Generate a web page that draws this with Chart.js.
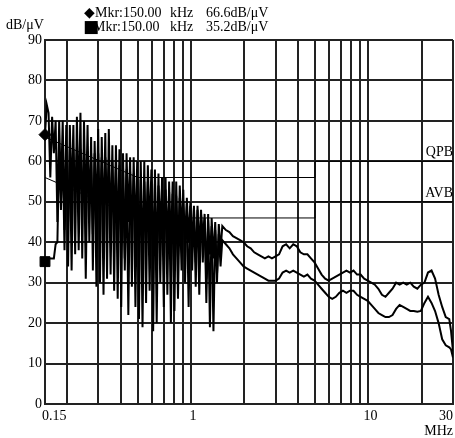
<!DOCTYPE html>
<html>
<head>
<meta charset="utf-8">
<script src="https://cdn.jsdelivr.net/npm/chart.js@4.4.0/dist/chart.umd.min.js"></script>
<style>
  body { margin: 0; background: #fff; }
  canvas { display: block; }
</style>
</head>
<body>
<canvas id="emi" width="455" height="438"></canvas>
<script>
// sweep frequencies (MHz), shared by both traces
var freqs = [
  0.1500, 0.1535, 0.1571, 0.1607, 0.1645, 0.1683, 0.1722, 0.1762, 0.1803, 0.1845,
  0.1888, 0.1932, 0.1977, 0.2024, 0.2071, 0.2119, 0.2168, 0.2219, 0.2270, 0.2323,
  0.2377, 0.2433, 0.2489, 0.2547, 0.2607, 0.2667, 0.2730, 0.2793, 0.2858, 0.2925,
  0.2993, 0.3063, 0.3134, 0.3207, 0.3282, 0.3358, 0.3436, 0.3516, 0.3598, 0.3682,
  0.3768, 0.3856, 0.3945, 0.4037, 0.4131, 0.4228, 0.4326, 0.4427, 0.4530, 0.4635,
  0.4743, 0.4854, 0.4967, 0.5083, 0.5201, 0.5322, 0.5446, 0.5573, 0.5703, 0.5836,
  0.5972, 0.6111, 0.6253, 0.6399, 0.6548, 0.6700, 0.6856, 0.7016, 0.7179, 0.7347,
  0.7518, 0.7693, 0.7872, 0.8055, 0.8243, 0.8435, 0.8632, 0.8833, 0.9038, 0.9249,
  0.9464, 0.9685, 0.9910, 1.014, 1.038, 1.062, 1.087, 1.112, 1.138, 1.164,
  1.192, 1.219, 1.248, 1.277, 1.306, 1.337, 1.368, 1.400, 1.433, 1.466,
  1.500,
  1.571, 1.645, 1.722, 1.803, 1.888, 1.977, 2.071, 2.168, 2.270, 2.377,
  2.489, 2.607, 2.730, 2.858, 2.993, 3.134, 3.282, 3.436, 3.598, 3.768,
  3.945, 4.131, 4.326, 4.530, 4.743, 4.967, 5.201, 5.446, 5.703, 5.972,
  6.253, 6.548, 6.856, 7.179, 7.518, 7.872, 8.243, 8.632, 9.038, 9.464,
  9.910, 10.38, 10.87, 11.38, 11.92, 12.48, 13.06, 13.68, 14.33, 15.00,
  15.71, 16.45, 17.22, 18.03, 18.88, 19.77, 20.71, 21.68, 22.70, 23.77,
  24.89, 26.07, 27.30, 28.58,
  29.25, 30.00
];

// trace 1, peak detector (dBuV)
var peak = [
  66.6, 74, 72, 56, 71, 62, 70, 45, 70, 52,
  70, 43, 69, 34, 69, 50, 69, 37, 71, 48,
  72, 36, 70, 46, 69, 40, 66, 33, 65, 44,
  68, 30, 66, 42, 67, 31, 68, 40, 64, 28,
  64, 38, 63, 24, 62, 36, 62, 45, 61, 29,
  61, 40, 60, 21, 60, 33, 60, 25, 59, 42,
  58, 18, 58, 34, 57, 30, 56, 40, 56, 27,
  55, 38, 55, 23, 55, 36, 54, 42, 53, 30,
  51, 40, 50, 33, 49, 29, 49, 38, 48, 35,
  47, 31, 47, 19, 46, 36, 45, 30, 44.5, 38,
  44,
  43, 42.5, 41.5, 41, 40.5, 40, 39, 38.5, 37.5, 37,
  36.5, 36, 36.5, 36, 36.5, 37, 39, 39.5, 38.5, 39.5,
  39, 37.5, 37, 37, 36, 35, 33.5, 32, 31, 30.5,
  31, 31.5, 32, 32.5, 33, 32.5, 33, 32, 32, 31,
  30.5, 30, 29.5, 28.5, 27, 26.5, 27.5, 28.5, 30, 29.5,
  30, 29.5, 30, 29, 28.5, 29.5, 30, 32.5, 33, 31,
  27, 24, 21.5, 21,
  18, 13
];

// trace 2, average detector (dBuV)
var average = [
  35.2, 35.5, 36, 36, 36, 36, 39.5, 40, 64, 48,
  64, 38, 63.5, 45, 63, 33, 63, 52, 63.5, 38,
  63, 50, 63, 31, 62.5, 52, 62, 42, 62, 29,
  62, 48, 61, 27, 61, 50, 60.5, 32, 60, 46,
  60, 26, 59, 45, 58.5, 33, 58, 22, 57.5, 44,
  57, 24, 56, 40, 55.5, 19, 55, 43, 55, 28,
  55, 38, 54.5, 20, 54, 44, 53.5, 24, 53, 41,
  52.5, 20, 52, 40, 51.5, 26, 51, 33, 50, 42,
  49.5, 24, 49, 40, 48.5, 35, 48, 27, 47, 42,
  46, 25, 45.5, 37, 44, 18, 43, 32, 42, 34,
  40.5,
  39.5, 38.5, 37, 36, 35, 34, 33.5, 33, 32.5, 32,
  31.5, 31, 30.5, 30.5, 30.5, 31, 32.5, 33, 32.5, 33,
  32.5, 32, 31.5, 32, 31, 30.5, 29.5, 28.5, 27.5, 26.5,
  26, 26.5, 27.5, 28, 27.5, 28, 28, 27, 26.5, 26,
  25.5, 24.5, 23.5, 22.5, 22, 21.5, 21.5, 22, 23.5, 24.5,
  24, 23.5, 23, 23, 22.8, 23, 25, 26.5, 25, 23,
  20, 16, 14.5, 14,
  13.5, 11.5
];

// limit lines (QP and AV)
var limitFreqs = [0.15, 0.5, 5, 5, 30];
var qpLimit = [66, 56, 56, 60, 60];
var avLimit = [56, 46, 46, 50, 50];

// markers at 150 kHz
var mkrFreq = 0.15;
var mkrPeak = 66.6;
var mkrAvg = 35.2;

var gridFreqs = [0.15, 0.2, 0.3, 0.4, 0.5, 0.6, 0.7, 0.8, 0.9, 1,
                 2, 3, 4, 5, 6, 7, 8, 9, 10, 20, 30];
var freqLabels = [0.15, 1, 10, 30];

function pts(xs, ys) {
  return xs.map(function(x, i) { return { x: x, y: ys[i] }; });
}

var FONT = '14px "Liberation Serif", "Times New Roman", serif';

var emiText = {
  id: 'emiText',
  afterDraw: function(chart) {
    var ctx = chart.ctx;
    var xs = chart.scales.x, ys = chart.scales.y, a = chart.chartArea;
    ctx.save();
    ctx.fillStyle = '#000';
    ctx.font = FONT;
    ctx.textBaseline = 'alphabetic';
    ctx.textAlign = 'left';
    ctx.fillText('dB/\u03bcV', 6, 29);
    ctx.fillText('\u25c6Mkr:150.00', 84, 17);
    ctx.fillText('kHz', 170, 17);
    ctx.fillText(mkrPeak.toFixed(1) + 'dB/\u03bcV', 206, 17);
    ctx.font = '17px "DejaVu Sans", sans-serif';
    ctx.fillText('\u25a0', 83, 32);
    ctx.font = FONT;
    ctx.fillText('Mkr:150.00', 93, 31);
    ctx.fillText('kHz', 170, 31);
    ctx.fillText(mkrAvg.toFixed(1) + 'dB/\u03bcV', 206, 31);

    ctx.textAlign = 'right';
    ctx.fillText('QPB', a.right, ys.getPixelForValue(60) - 5);
    ctx.fillText('AVB', a.right, ys.getPixelForValue(50) - 5);

    // frequency labels under the axis
    ctx.textBaseline = 'top';
    freqLabels.forEach(function(v, i) {
      var px = xs.getPixelForValue(v);
      if (i === 0) { ctx.textAlign = 'left'; px -= 3; }
      else if (i === freqLabels.length - 1) { ctx.textAlign = 'right'; px = a.right; }
      else { ctx.textAlign = 'center'; px += 2; }
      ctx.fillText(String(v), px, a.bottom + 5);
    });
    ctx.textAlign = 'right';
    ctx.fillText('MHz', a.right, a.bottom + 20);
    ctx.restore();
  }
};

var ctx = document.getElementById('emi');
var emi = new Chart(ctx, {
  type: 'line',
  data: {
    datasets: [{
      data: pts(freqs, peak),
      borderColor: '#000',
      borderWidth: 2,
      pointRadius: 0
    }, {
      data: pts(freqs, average),
      borderColor: '#000',
      borderWidth: 2,
      pointRadius: 0
    }, {
      data: pts(limitFreqs, qpLimit),
      borderColor: '#000',
      borderWidth: 1,
      pointRadius: 0
    }, {
      data: pts(limitFreqs, avLimit),
      borderColor: '#000',
      borderWidth: 1,
      pointRadius: 0
    }, {
      data: [{ x: mkrFreq, y: mkrPeak }],
      showLine: false,
      pointStyle: 'rectRot',
      pointRadius: 6,
      backgroundColor: '#000',
      borderColor: '#000',
      clip: false
    }, {
      data: [{ x: mkrFreq, y: mkrAvg }],
      showLine: false,
      pointStyle: 'rect',
      pointRadius: 7,
      backgroundColor: '#000',
      borderColor: '#000',
      clip: false
    }]
  },
  options: {
    responsive: false,
    animation: false,
    devicePixelRatio: 1,
    layout: { autoPadding: false, padding: { top: 40, right: 2 } },
    plugins: { legend: { display: false }, tooltip: { enabled: false } },
    scales: {
      x: {
        type: 'logarithmic',
        min: 0.15,
        max: 30,
        afterBuildTicks: function(s) {
          s.ticks = gridFreqs.map(function(v) { return { value: v }; });
        },
        afterFit: function(s) { s.height = 34; },
        ticks: { display: false },
        grid: { color: '#222', lineWidth: 2, drawTicks: false },
        border: { color: '#222', width: 2 }
      },
      y: {
        min: 0,
        max: 90,
        afterFit: function(s) { s.width = 45; },
        ticks: { stepSize: 10, color: '#000', font: { family: '"Liberation Serif", serif', size: 14 }, padding: 3 },
        grid: { color: '#222', lineWidth: 2, drawTicks: false },
        border: { color: '#222', width: 2 }
      }
    }
  },
  plugins: [emiText]
});
</script>
</body>
</html>
